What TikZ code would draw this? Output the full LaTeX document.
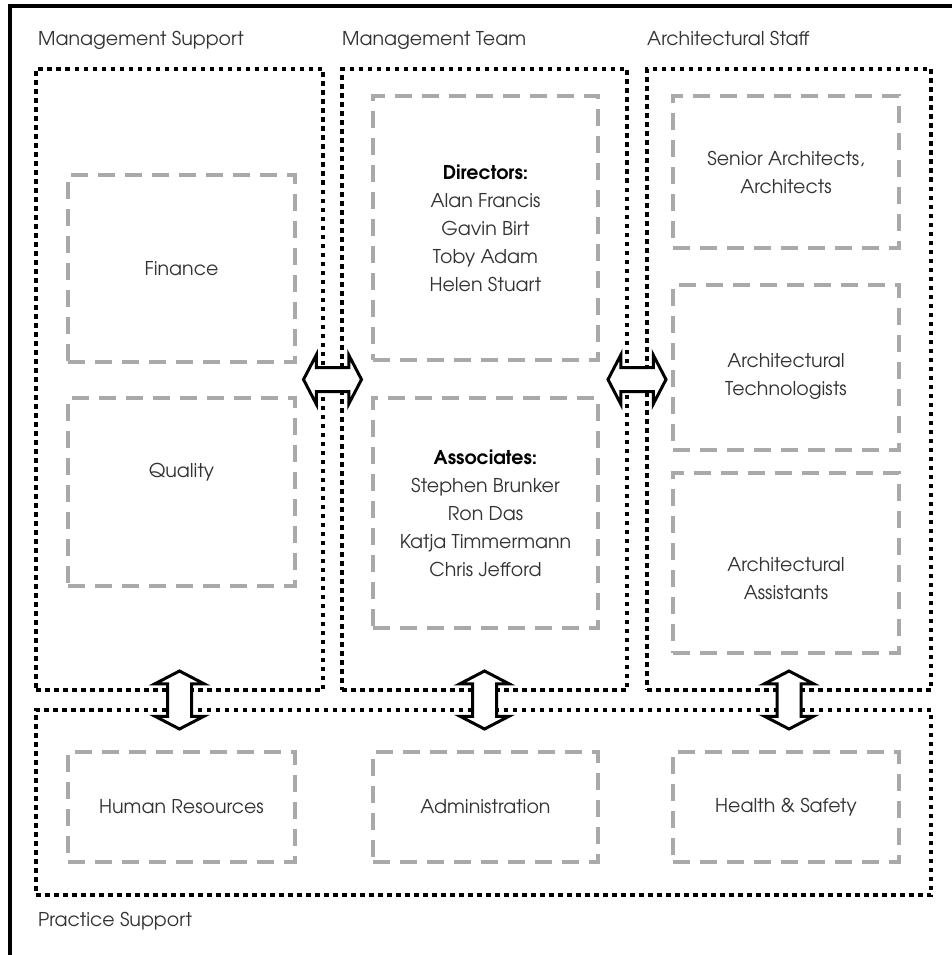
\documentclass[tikz,border=0pt]{standalone}
\usepackage{fontspec}
\setmainfont{TeX Gyre Adventor}
\usetikzlibrary{shapes.arrows,calc}
\definecolor{boxgray}{HTML}{A9A9A9}
\definecolor{txt}{HTML}{333333}
\begin{document}
\begin{tikzpicture}[x=1pt,y=-1pt,
  group/.style={draw=black, line width=4.5pt, dash pattern=on 4.5pt off 4.5pt, inner sep=0pt},
  inbox/.style={draw=boxgray, line width=3.5pt, dash pattern=on 17pt off 10pt, inner sep=0pt, align=center, text=txt, font=\fontsize{19}{28}\selectfont},
  intext/.style={inner sep=0pt, align=center, text=txt, font=\fontsize{19}{28}\selectfont},
  lbl/.style={anchor=base west, text=txt, font=\fontsize{19}{22}\selectfont, inner sep=0pt},
  dblarrow/.style={double arrow, draw=black, fill=white, line width=3pt, inner xsep=0pt, inner ysep=10.5pt, double arrow head extend=12.5pt, double arrow tip angle=125, minimum height=58pt}]
\useasboundingbox (0,0) rectangle (952,955);
\fill[white] (0,0) rectangle (952,955);
% outer frame
\draw[line width=4pt] (10,1000) -- (10,6) -- (1000,6);
% group labels
\node[lbl] (lms) at (38,46) {Management Support};
\node[lbl] (lmt) at (342,46) {Management Team};
\node[lbl] (las) at (647,46) {Architectural Staff};
\node[lbl] (lps) at (38,926) {Practice Support};
% group boxes
\node[group, minimum width=287, minimum height=621] (ms) at (179.5,379.5) {};
\node[group, minimum width=285, minimum height=621] (mt) at (484.5,379.5) {};
\node[group, minimum width=284, minimum height=621] (as) at (789,379.5) {};
\node[group, minimum width=895, minimum height=185] (ps) at (483.5,802.5) {};
% inner boxes
\node[inbox, minimum width=227, minimum height=187] (fin) at (181.5,268.5) {Finance};
\node[inbox, minimum width=227, minimum height=188] (qual) at (181.5,492) {};
\node[intext] (qualt) at (181.5,472) {Quality};
\node[inbox, minimum width=225, minimum height=264] (dir) at (485.5,228) {{\color{black}\bfseries Directors:}\\Alan Francis\\Gavin Birt\\Toby Adam\\Helen Stuart};
\node[inbox, minimum width=225, minimum height=230] (asc) at (485.5,513) {{\color{black}\bfseries Associates:}\\Stephen Brunker\\Ron Das\\Katja Timmermann\\Chris Jefford};
\node[inbox, minimum width=226, minimum height=152] (sa) at (786,172) {Senior Architects,\\Architects};
\node[inbox, minimum width=226, minimum height=165] (tech) at (786,367.5) {};
\node[intext] (techt) at (786,377) {Architectural\\Technologists};
\node[inbox, minimum width=226, minimum height=180] (assist) at (786,563) {};
\node[intext] (assistt) at (786,579) {Architectural\\Assistants};
\node[inbox, minimum width=227, minimum height=110] (hr) at (181.5,807) {Human Resources};
\node[inbox, minimum width=225, minimum height=110] (adm) at (485.5,807) {Administration};
\node[inbox, minimum width=226, minimum height=110] (hs) at (786,807) {Health \& Safety};
% arrows
\node[dblarrow] (a1) at ($(ms.east)!0.5!(mt.west)$) {};
\node[dblarrow] (a2) at ($(mt.east)!0.5!(as.west)$) {};
\node[dblarrow, rotate=90] (a3) at ($(ms.south)!0.5!(ps.north -| ms.south)$) {};
\node[dblarrow, rotate=90] (a4) at ($(mt.south)!0.5!(ps.north -| mt.south)$) {};
\node[dblarrow, rotate=90] (a5) at ($(as.south)!0.5!(ps.north -| as.south)$) {};
\end{tikzpicture}
\end{document}
